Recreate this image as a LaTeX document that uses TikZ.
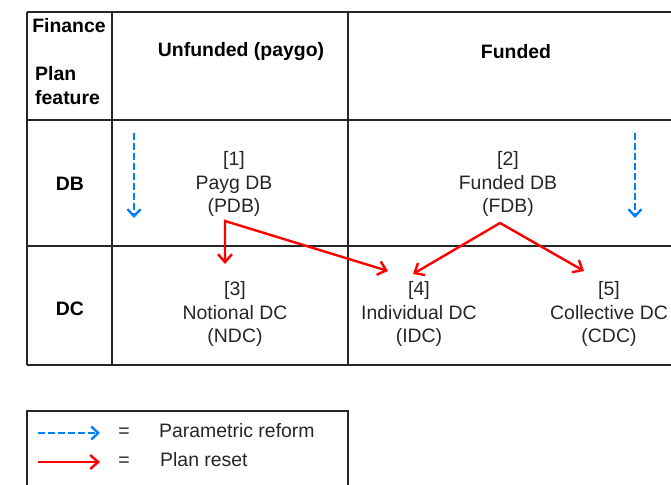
\documentclass[tikz,border=0pt]{standalone}
\usepackage{fontspec}
\setmainfont{Liberation Sans}
\usetikzlibrary{arrows.meta}
\definecolor{paramblue}{RGB}{0,127,255}

\begin{document}
\begin{tikzpicture}[x=1bp, y=-1bp,
  grid/.style={draw=black!85, line width=1.4bp},
  cell/.style={align=center, font=\fontsize{19.5}{24}\selectfont, text=black!85, inner sep=2bp},
  head/.style={cell, font=\fontsize{19.5}{24}\selectfont\bfseries, text=black},
  param/.style={draw=paramblue, line width=2.4bp, dash pattern=on 7bp off 3bp,
                -{Straight Barb[length=7bp,width=13bp]}},
  reset/.style={draw=red, line width=2.4bp, >={Straight Barb[length=8bp,width=14bp]}}]
  \useasboundingbox (0,0) rectangle (671,485);
  \foreach \y in {12,120,246,365}
    \draw[grid] (27,\y) -- (671,\y);
  \foreach \x in {27,112,348}
    \draw[grid] (\x,12) -- (\x,365);
  \draw[grid] (27,485) |- (348,411) -- (348,485);

  \node[head] (fin) at (69,26) {Finance};
  \node[head, align=left, anchor=west] (feat) at (33,86) {Plan\\feature};
  \node[head] (unf) at (241,52) {Unfunded (paygo)};
  \node[head] (fun) at (516,52) {Funded};
  \node[head] (db) at (70,184) {DB};
  \node[head] (dc) at (70,309) {DC};

  \node[cell] (pdb) at (234,184) {[1]\\Payg DB\\(PDB)};
  \node[cell] (fdb) at (508,184) {[2]\\Funded DB\\(FDB)};
  \node[cell] (ndc) at (235,314) {[3]\\Notional DC\\(NDC)};
  \node[cell] (idc) at (419,314) {[4]\\Individual DC\\(IDC)};
  \node[cell] (cdc) at (609,314) {[5]\\Collective DC\\(CDC)};

  \coordinate (pdbout) at (225,221);
  \coordinate (ndcin)  at (225,264);
  \coordinate (idcinA) at (388,271);
  \coordinate (fdbout) at (500,223);
  \coordinate (idcinB) at (413,274);
  \coordinate (cdcin)  at (584,271);
  \draw[reset, <->] (ndcin) -- (pdbout) -- (idcinA);
  \draw[reset, <->] (idcinB) -- (fdbout) -- (cdcin);

  \coordinate (unftop) at (134,133);
  \coordinate (unfbot) at (134,218);
  \coordinate (funtop) at (635,133);
  \coordinate (funbot) at (635,218);
  \draw[param] (unftop) -- (unfbot);
  \draw[param] (funtop) -- (funbot);

  \coordinate (keyAa) at (38,433);
  \coordinate (keyAb) at (100,433);
  \coordinate (keyBa) at (38,462);
  \coordinate (keyBb) at (100,462);
  \draw[param] (keyAa) -- (keyAb);
  \draw[reset, ->] (keyBa) -- (keyBb);
  \node[cell] (eqA) at (124,433) {=};
  \node[cell] (eqB) at (124,462) {=};
  \node[cell, anchor=west] (keyA) at (157,431) {Parametric reform};
  \node[cell, anchor=west] (keyB) at (158,460) {Plan reset};
\end{tikzpicture}
\end{document}
